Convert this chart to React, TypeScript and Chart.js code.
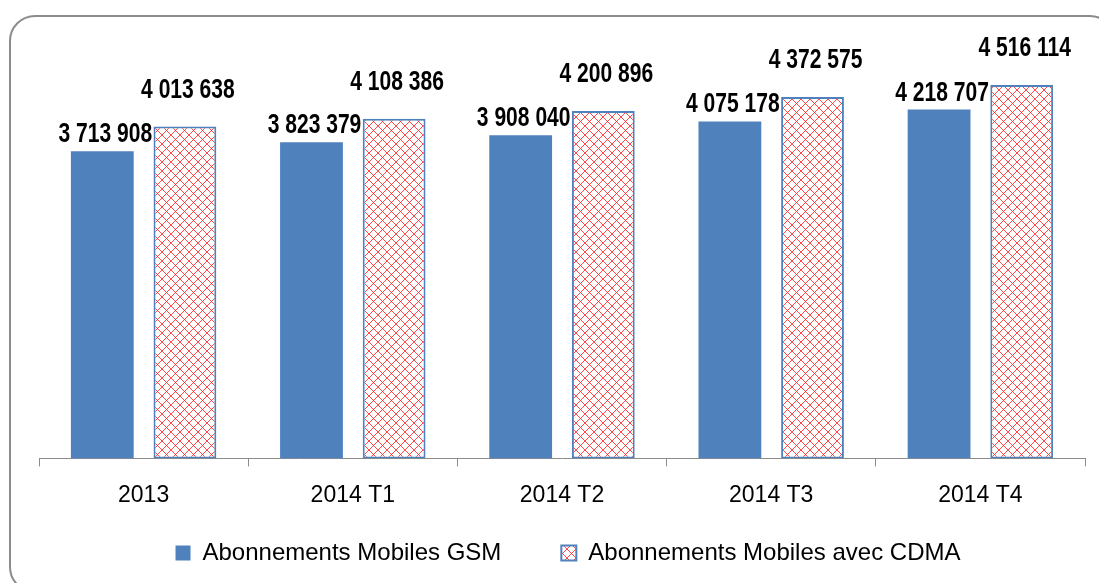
import React, { useEffect, useRef } from "react";
import { Chart, registerables } from "chart.js";

Chart.register(...registerables);

const categories = ["2013", "2014 T1", "2014 T2", "2014 T3", "2014 T4"];
const gsmValues = [3713908, 3823379, 3908040, 4075178, 4218707];
const cdmaValues = [4013638, 4108386, 4200896, 4372575, 4516114];
const seriesNames = ["Abonnements Mobiles GSM", "Abonnements Mobiles avec CDMA"];

const BLUE = "#4F81BD";

function makePattern(): CanvasPattern | string {
  const p = 9;
  const c = document.createElement("canvas");
  c.width = p;
  c.height = p;
  const g = c.getContext("2d");
  if (!g) return "#ffcccc";
  g.fillStyle = "#ffffff";
  g.fillRect(0, 0, p, p);
  g.strokeStyle = "rgba(255,40,40,0.85)";
  g.lineWidth = 1;
  g.beginPath();
  g.moveTo(0, 0);
  g.lineTo(p, p);
  g.moveTo(0, p);
  g.lineTo(p, 0);
  g.stroke();
  const pat = g.createPattern(c, "repeat");
  return pat || "#ffcccc";
}

function fmt(v: number): string {
  return String(v).replace(/\B(?=(\d{3})+(?!\d))/g, " ");
}

const framePlugin = {
  id: "frame",
  beforeDraw(chart: any) {
    const ctx = chart.ctx;
    ctx.save();
    ctx.fillStyle = "#ffffff";
    ctx.fillRect(0, 0, chart.width, chart.height);
    ctx.strokeStyle = "#8c8c8c";
    ctx.lineWidth = 2;
    ctx.beginPath();
    (ctx as any).roundRect(10, 16, 1105, 576, 25);
    ctx.stroke();
    ctx.restore();
  },
};

// Move the legend row up/right after layout so the wide item spacing
// does not push the plot area up.
const legendShiftPlugin = {
  id: "legendShift",
  afterLayout(chart: any) {
    const lg = chart.legend;
    if (!lg) return;
    lg.top -= 43;
    lg.bottom -= 43;
    lg.left += 6;
    lg.right += 6;
  },
};

const labelPlugin = {
  id: "valueLabels",
  afterDatasetsDraw(chart: any) {
    const ctx = chart.ctx;
    const offsets = [9, 29];
    chart.data.datasets.forEach((ds: any, di: number) => {
      const meta = chart.getDatasetMeta(di);
      meta.data.forEach((el: any, i: number) => {
        ctx.save();
        ctx.font = 'bold 27px "Liberation Sans", Arial, sans-serif';
        ctx.fillStyle = "#000000";
        ctx.textAlign = "center";
        ctx.textBaseline = "alphabetic";
        ctx.translate(el.x + 3, el.y - offsets[di]);
        ctx.scale(0.78, 1);
        ctx.fillText(fmt(ds.data[i]), 0, 0);
        ctx.restore();
      });
    });
  },
};

export default function App() {
  const ref = useRef<HTMLCanvasElement>(null);
  useEffect(() => {
    if (!ref.current) return;
    const pattern = makePattern();
    const chart = new Chart(ref.current, {
      type: "bar",
      data: {
        labels: categories,
        datasets: [
          {
            label: seriesNames[0],
            data: gsmValues,
            backgroundColor: BLUE,
            borderWidth: 0,
            categoryPercentage: 0.79,
            barPercentage: 0.76,
          },
          {
            label: seriesNames[1],
            data: cdmaValues,
            backgroundColor: pattern as any,
            borderColor: BLUE,
            borderWidth: 2,
            borderSkipped: false,
            categoryPercentage: 0.79,
            barPercentage: 0.76,
          },
        ],
      },
      options: {
        responsive: false,
        animation: false,
        layout: { padding: { left: 39, right: 14, top: 45, bottom: -35 } },
        plugins: {
          legend: {
            position: "bottom",
            labels: {
              boxWidth: 15,
              boxHeight: 15,
              padding: 60,
              color: "#000000",
              font: { family: '"Liberation Sans", Arial, sans-serif', size: 24 },
            },
          },
          tooltip: { enabled: false },
        },
        scales: {
          x: {
            grid: {
              display: true,
              drawOnChartArea: false,
              drawTicks: true,
              tickLength: 8,
              color: "#8c8c8c",
              offset: true,
            },
            border: { display: true, color: "#8c8c8c", width: 1 },
            ticks: {
              color: "#000000",
              padding: 15,
              font: { family: '"Liberation Sans", Arial, sans-serif', size: 23 },
            },
          },
          y: {
            display: false,
            min: 0,
            max: 5000000,
          },
        },
      },
      plugins: [framePlugin, legendShiftPlugin, labelPlugin],
    });
    return () => chart.destroy();
  }, []);
  return (
    <div style={{ position: "absolute", left: 0, top: 0, width: 1099, height: 583 }}>
      <canvas ref={ref} width={1099} height={583} style={{ display: "block" }} />
    </div>
  );
}
